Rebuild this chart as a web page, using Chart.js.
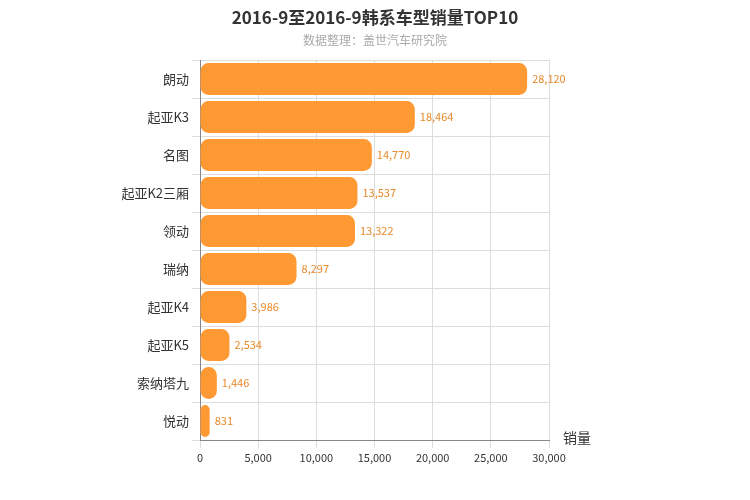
<!DOCTYPE html>
<html><head><meta charset="utf-8">
<script src="https://cdn.jsdelivr.net/npm/chart.js@4"></script>
<style>body{margin:0;background:#fff}#w{position:relative;width:750px;height:500px}
#t{position:absolute;top:4px;left:0;width:750px;text-align:center;font:bold 17px "Noto Sans CJK SC";color:#333}
#s{position:absolute;top:31px;left:0;width:750px;text-align:center;font:12px "Noto Sans CJK SC";color:#aaa}
canvas{position:absolute;left:0;top:0}</style></head>
<body><div id="w"><canvas id="c" width="750" height="500"></canvas>
<div id="t">2016-9至2016-9韩系车型销量TOP10</div><div id="s">数据整理：盖世汽车研究院</div></div>
<script>
const categories=["朗动","起亚K3","名图","起亚K2三厢","领动","瑞纳","起亚K4","起亚K5","索纳塔九","悦动"];
const sales=[28120,18464,14770,13537,13322,8297,3986,2534,1446,831];
const xTicks=[0,5000,10000,15000,20000,25000,30000];
const fmt=v=>v.toLocaleString('en-US');
const extra={id:'extra',afterDatasetsDraw(ch){const c=ch.ctx;const m=ch.getDatasetMeta(0);c.save();c.font='11px "Noto Sans CJK SC"';c.fillStyle='#e8892a';c.textBaseline='middle';
m.data.forEach((b,i)=>c.fillText(fmt(sales[i]),b.x+5,b.y));
c.fillStyle='#333';c.font='14px "Noto Sans CJK SC"';c.fillText('销量',563,438);c.restore();}};
new Chart(document.getElementById('c'),{type:'bar',data:{labels:categories,datasets:[{data:sales,backgroundColor:'#ff9933',borderRadius:8,borderSkipped:false,categoryPercentage:1,barPercentage:0.84}]},
options:{indexAxis:'y',responsive:false,animation:false,layout:{padding:{top:60,right:201,left:0,bottom:0}},
plugins:{legend:{display:false},tooltip:{enabled:false}},
scales:{x:{min:0,max:30000,afterBuildTicks:s=>{s.ticks=xTicks.map(v=>({value:v}))},afterFit:s=>{s.height=60},
ticks:{callback:v=>fmt(v),color:'#333',font:{size:11,family:'Noto Sans CJK SC'},maxRotation:0},grid:{color:'#ddd'},border:{color:'#888'}},
y:{afterFit:s=>{s.width=200},ticks:{color:'#333',font:{size:13,family:'Noto Sans CJK SC'}},grid:{color:'#ddd',offset:true},border:{color:'#888'}}}},plugins:[extra]});
</script></body></html>
